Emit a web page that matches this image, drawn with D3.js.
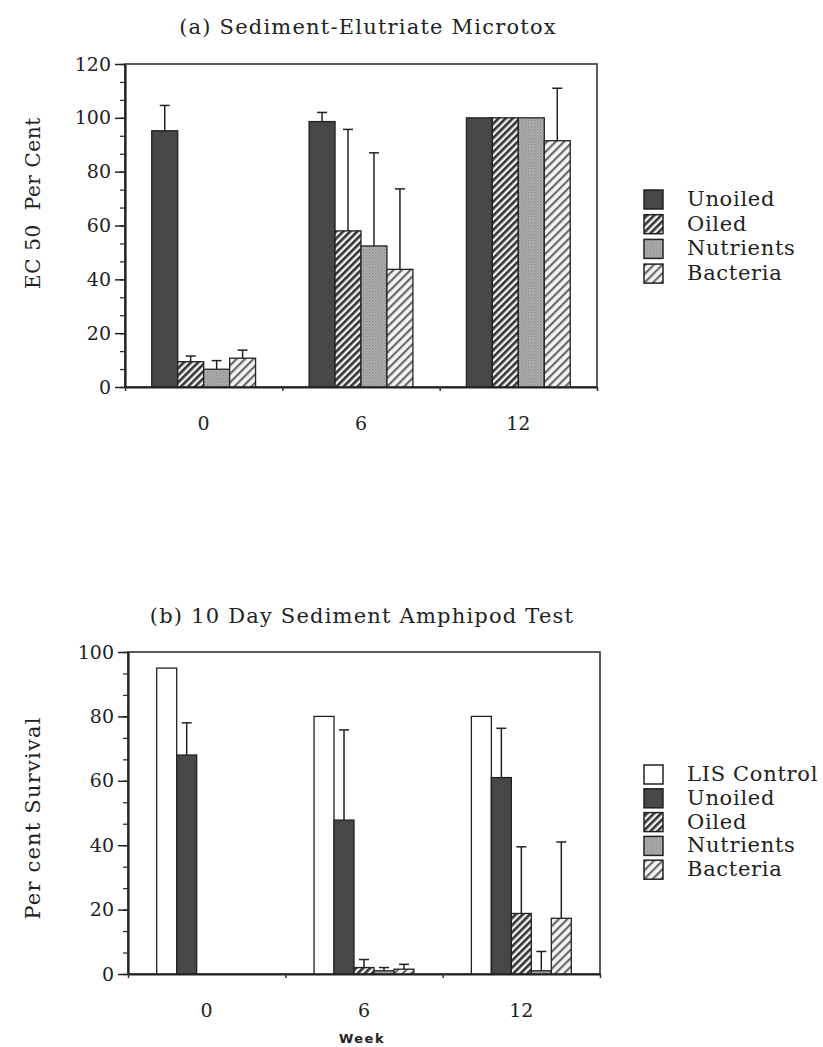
<!DOCTYPE html>
<meta charset="utf-8">
<html>
<head>
    <script src="https://d3js.org/d3.v7.js"></script>
    <style>
        body { margin: 0; background: #fff; }
        text { font-family: "DejaVu Serif", serif; fill: #222; }
    </style>
</head>
<body>
<script>
    // ---- data ----
    var weeks = ["0", "6", "12"];

    // (a) Sediment-Elutriate Microtox, EC50 per cent
    var seriesA = ["Unoiled", "Oiled", "Nutrients", "Bacteria"];
    var aUnoiled = [95.2, 98.6, 100];
    var aUnoiledErr = [9.4, 3.4, 0];
    var aOiled = [9.4, 58, 100];
    var aOiledErr = [2.1, 37.7, 0];
    var aNutrients = [6.6, 52.4, 100];
    var aNutrientsErr = [3.2, 34.6, 0];
    var aBacteria = [10.7, 43.7, 91.5];
    var aBacteriaErr = [3, 29.9, 19.5];
    var ticksA = [0, 20, 40, 60, 80, 100, 120];

    // (b) 10 day sediment amphipod test, per cent survival
    var seriesB = ["LIS Control", "Unoiled", "Oiled", "Nutrients", "Bacteria"];
    var bControl = [95, 80, 80];
    var bControlErr = [0, 0, 0];
    var bUnoiled = [68, 47.8, 61];
    var bUnoiledErr = [10, 28, 15.3];
    var bOiled = [0, 2, 18.8];
    var bOiledErr = [0, 2.5, 20.7];
    var bNutrients = [0, 1, 1];
    var bNutrientsErr = [0, 1, 6];
    var bBacteria = [0, 1.5, 17.3];
    var bBacteriaErr = [0, 1.5, 23.7];
    var ticksB = [0, 20, 40, 60, 80, 100];

    var width = 823, height = 1047;
    var svg = d3.select("body").append("svg")
        .attr("width", width)
        .attr("height", height)
        .style("background", "#fff");

    // fill patterns
    var defs = svg.append("defs");
    var oiled = defs.append("pattern")
        .attr("id", "oiled")
        .attr("patternUnits", "userSpaceOnUse")
        .attr("width", 5).attr("height", 5)
        .attr("patternTransform", "rotate(45)");
    oiled.append("rect").attr("width", 5).attr("height", 5).attr("fill", "#f2f2f2");
    oiled.append("rect").attr("width", 2.6).attr("height", 5).attr("fill", "#333");

    var bact = defs.append("pattern")
        .attr("id", "bacteria")
        .attr("patternUnits", "userSpaceOnUse")
        .attr("width", 6).attr("height", 6)
        .attr("patternTransform", "rotate(45)");
    bact.append("rect").attr("width", 6).attr("height", 6).attr("fill", "#f4f4f4");
    bact.append("rect").attr("width", 2.2).attr("height", 6).attr("fill", "#6a6a6a");

    var nutr = defs.append("pattern")
        .attr("id", "nutrients")
        .attr("patternUnits", "userSpaceOnUse")
        .attr("width", 3).attr("height", 3);
    nutr.append("rect").attr("width", 3).attr("height", 3).attr("fill", "#b4b4b4");
    nutr.append("rect").attr("width", 1.5).attr("height", 1.5).attr("fill", "#8c8c8c");
    nutr.append("rect").attr("x", 1.5).attr("y", 1.5).attr("width", 1.5).attr("height", 1.5).attr("fill", "#9c9c9c");

    var fills = {
        "LIS Control": "#fff",
        "Unoiled": "#474747",
        "Oiled": "url(#oiled)",
        "Nutrients": "url(#nutrients)",
        "Bacteria": "url(#bacteria)"
    };

    function drawChart(cfg) {
        var g = svg.append("g");

        var x0 = d3.scaleBand()
            .domain(weeks)
            .range([cfg.left, cfg.right])
            .paddingInner(cfg.pad)
            .paddingOuter(cfg.pad / 2);

        var x1 = d3.scaleBand()
            .domain(cfg.series)
            .range([0, x0.bandwidth()]);

        var y = d3.scaleLinear()
            .domain([0, cfg.ymax])
            .range([cfg.bottom, cfg.top]);

        // frame
        g.append("rect")
            .attr("x", cfg.left)
            .attr("y", cfg.top)
            .attr("width", cfg.right - cfg.left)
            .attr("height", cfg.bottom - cfg.top)
            .attr("fill", "none")
            .attr("stroke", "#333")
            .attr("stroke-width", 1.6);

        // bars
        var rows = [];
        weeks.forEach(function(w, i) {
            cfg.series.forEach(function(s, j) {
                rows.push({ week: w, name: s, value: cfg.values[j][i], err: cfg.errs[j][i] });
            });
        });

        g.selectAll(".bar")
            .data(rows.filter(function(d) { return d.value > 0; }))
            .join("rect")
            .attr("class", "bar")
            .attr("x", function(d) { return x0(d.week) + x1(d.name); })
            .attr("y", function(d) { return y(d.value); })
            .attr("width", x1.bandwidth())
            .attr("height", function(d) { return y(0) - y(d.value); })
            .attr("fill", function(d) { return fills[d.name]; })
            .attr("stroke", "#222")
            .attr("stroke-width", 1.3);

        // error bars (upper only)
        var eb = g.selectAll(".err")
            .data(rows.filter(function(d) { return d.err > 0; }))
            .join("g")
            .attr("class", "err")
            .attr("stroke", "#222")
            .attr("stroke-width", 1.5);
        eb.append("line")
            .attr("x1", function(d) { return x0(d.week) + x1(d.name) + x1.bandwidth() / 2; })
            .attr("x2", function(d) { return x0(d.week) + x1(d.name) + x1.bandwidth() / 2; })
            .attr("y1", function(d) { return y(d.value); })
            .attr("y2", function(d) { return y(d.value + d.err); });
        eb.append("line")
            .attr("x1", function(d) { return x0(d.week) + x1(d.name) + x1.bandwidth() / 2 - 5; })
            .attr("x2", function(d) { return x0(d.week) + x1(d.name) + x1.bandwidth() / 2 + 5; })
            .attr("y1", function(d) { return y(d.value + d.err); })
            .attr("y2", function(d) { return y(d.value + d.err); });

        // y axis
        var minor = d3.range(0, cfg.ymax + 0.01, 20 / 3);
        g.append("g")
            .attr("transform", "translate(" + cfg.left + ",0)")
            .call(d3.axisLeft(y).tickValues(minor).tickSize(5).tickFormat("").tickSizeOuter(0))
            .call(function(a) { a.select(".domain").remove(); })
            .selectAll("line").attr("stroke", "#333").attr("stroke-width", 1.3);

        var ya = g.append("g")
            .attr("transform", "translate(" + cfg.left + ",0)")
            .call(d3.axisLeft(y).tickValues(cfg.ticks).tickSize(10).tickPadding(4).tickSizeOuter(0));
        ya.select(".domain").attr("stroke", "#222").attr("stroke-width", 2.2);
        ya.selectAll("line").attr("stroke", "#222").attr("stroke-width", 1.5);
        ya.selectAll("text")
            .style("font-family", "DejaVu Serif")
            .style("font-size", "19px")
            .attr("fill", "#444");

        // x axis: small ticks at group boundaries, week labels below
        var xb = d3.scaleLinear().domain([0, weeks.length]).range([cfg.left, cfg.right]);
        var xa = g.append("g")
            .attr("transform", "translate(0," + cfg.bottom + ")")
            .call(d3.axisBottom(xb).ticks(weeks.length).tickSize(4).tickFormat("").tickSizeOuter(0));
        xa.select(".domain").attr("stroke", "#222").attr("stroke-width", 2.2);
        xa.selectAll("line").attr("stroke", "#333").attr("stroke-width", 1.5);

        var xl = g.append("g")
            .attr("transform", "translate(0," + cfg.bottom + ")")
            .call(d3.axisBottom(x0).tickSize(0).tickPadding(cfg.labelPad));
        xl.select(".domain").remove();
        xl.selectAll("text")
            .style("font-family", "DejaVu Serif")
            .style("font-size", "19px")
            .attr("fill", "#444");

        // title
        svg.append("text")
            .attr("x", (cfg.left + cfg.right) / 2 + cfg.titleDX)
            .attr("y", cfg.titleY)
            .attr("text-anchor", "middle")
            .style("font-size", "21px")
            .style("letter-spacing", "1.2px")
            .text(cfg.title);

        // y label
        svg.append("text")
            .attr("transform", "translate(" + cfg.ylabX + "," + cfg.ylabY + ") rotate(-90)")
            .attr("text-anchor", "middle")
            .style("font-size", cfg.ylabSize + "px")
            .style("letter-spacing", cfg.ylabSpacing + "px")
            .style("white-space", "pre")
            .text(cfg.ylabel);

        // legend
        var lg = svg.append("g")
            .attr("transform", "translate(" + cfg.legX + "," + cfg.legY + ")");
        var item = lg.selectAll("g")
            .data(cfg.series)
            .join("g")
            .attr("transform", function(d, i) { return "translate(0," + i * cfg.legStep + ")"; });
        item.append("rect")
            .attr("x", 0).attr("y", -9)
            .attr("width", 19).attr("height", 19)
            .attr("fill", function(d) { return fills[d]; })
            .attr("stroke", "#222")
            .attr("stroke-width", 1.5);
        item.append("text")
            .attr("x", 43)
            .attr("y", 7)
            .style("font-size", "21px")
            .style("letter-spacing", "0.7px")
            .text(function(d) { return d; });
    }

    drawChart({
        series: seriesA,
        values: [aUnoiled, aOiled, aNutrients, aBacteria],
        errs: [aUnoiledErr, aOiledErr, aNutrientsErr, aBacteriaErr],
        ticks: ticksA, ymax: 120,
        left: 125, right: 597, top: 64, bottom: 387,
        pad: 0.34, labelPad: 30,
        title: "(a) Sediment-Elutriate Microtox", titleY: 34, titleDX: 7,
        ylabel: "EC 50  Per Cent", ylabX: 40, ylabY: 203, ylabSize: 20, ylabSpacing: 0.6,
        legX: 644, legY: 199, legStep: 24.7
    });

    drawChart({
        series: seriesB,
        values: [bControl, bUnoiled, bOiled, bNutrients, bBacteria],
        errs: [bControlErr, bUnoiledErr, bOiledErr, bNutrientsErr, bBacteriaErr],
        ticks: ticksB, ymax: 100,
        left: 128, right: 600, top: 652, bottom: 974,
        pad: 0.365, labelPad: 30,
        title: "(b) 10 Day Sediment Amphipod Test", titleY: 623, titleDX: -2,
        ylabel: "Per cent Survival", ylabX: 40, ylabY: 818, ylabSize: 21, ylabSpacing: 1.2,
        legX: 644, legY: 774, legStep: 23.8
    });

    // x axis title, bottom chart only
    svg.append("text")
        .attr("x", 362)
        .attr("y", 1043)
        .attr("text-anchor", "middle")
        .style("font-family", "DejaVu Sans")
        .style("font-weight", "bold")
        .style("font-size", "13px")
        .style("letter-spacing", "1.5px")
        .attr("fill", "#333")
        .text("Week");
</script>
</body>
</html>
